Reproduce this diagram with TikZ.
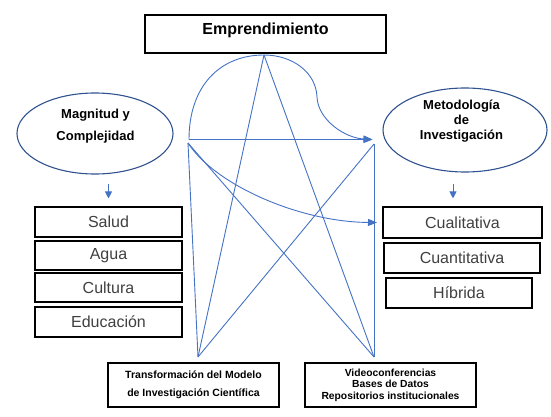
\documentclass[tikz,border=0pt]{standalone}
\usepackage{fontspec}
\setmainfont{Liberation Sans}
\usetikzlibrary{arrows.meta,shapes.geometric}
\definecolor{lineblue}{HTML}{4472C4}
\definecolor{ellblue}{HTML}{2F528F}
\definecolor{txtgray}{HTML}{404040}
\begin{document}
\begin{tikzpicture}[x=1pt,y=-1pt,
  box/.style={draw=black, line width=1.1pt, inner sep=0pt},
  ell/.style={draw=ellblue, line width=1.1pt, ellipse, inner sep=0pt},
  item/.style={box, font=\fontsize{16}{19}\selectfont, text=txtgray},
  elltext/.style={font=\bfseries\fontsize{13}{#1}\selectfont, align=center, inner sep=0pt},
  link/.style={draw=lineblue, line width=0.9pt},
  tip/.style={-{Triangle[width=7pt,length=9pt]}},
  smalltip/.style={-{Triangle[width=7pt,length=7pt]}},
]
\useasboundingbox (0,0) rectangle (551,417);

% title
\node[box, minimum width=241pt, minimum height=38pt,
      font=\bfseries\fontsize{16}{19}\selectfont,
      text height=11.5pt, text depth=9.5pt] (emp) at (265.5,34) {Emprendimiento};

% ellipses
\node[ell, minimum width=156pt, minimum height=81pt] (mag) at (95,133.5) {};
\node[elltext=22] (magt) at (95.5,126.5) {Magnitud y\\Complejidad};
\node[ell, minimum width=164pt, minimum height=84pt] (met) at (465,130) {};
\node[elltext=15] (mett) at (461.5,121.6) {Metodología\\de\\Investigación};

% left boxes
\node[item, minimum width=147pt, minimum height=30pt] (salud) at (108.5,222) {Salud};
\node[item, minimum width=147pt, minimum height=29pt] (agua) at (108.5,255.5) {Agua};
\node[item, minimum width=147pt, minimum height=29pt] (cult) at (108.5,287.5) {Cultura};
\node[item, minimum width=147pt, minimum height=30pt] (edu) at (108.5,322) {Educación};

% right boxes
\node[item, minimum width=159pt, minimum height=31pt] (cual) at (462.5,222.5) {Cualitativa};
\node[item, minimum width=156pt, minimum height=30pt] (cuan) at (462,258) {Cuantitativa};
\node[item, minimum width=146pt, minimum height=30pt] (hib) at (459,293) {Híbrida};

% bottom boxes
\node[box, minimum width=171pt, minimum height=44pt, align=center,
      font=\bfseries\fontsize{10.5}{18}\selectfont] (trans) at (193.5,385)
      {Transformación del Modelo\\de Investigación Científica};
\node[box, minimum width=171pt, minimum height=44pt, align=center,
      font=\bfseries\fontsize{10.3}{11.5}\selectfont] (video) at (390.5,385)
      {Videoconferencias\\Bases de Datos\\Repositorios institucionales};

% small arrows
\draw[link, smalltip, shorten <=9pt, shorten >=8pt] (salud.north |- mag.south) -- (salud.north);
\draw[link, smalltip, shorten <=11pt, shorten >=8pt] ([xshift=-9.5pt]cual.north |- met.south) -- ([xshift=-9.5pt]cual.north);

% star points
\coordinate (apex) at (264,55);
\coordinate (L1) at (189,139.5);
\coordinate (L2) at (188,143);
\coordinate (R1) at (372.5,139.5);
\coordinate (R2) at (374,144);
\coordinate (BL) at (198,357);
\coordinate (BR) at (374,357);
\coordinate (C1) at (377,222.5);

\draw[link] (apex) -- (BL);
\draw[link] (apex) -- (BR);
\draw[link, tip] (L1) -- (R1);
\draw[link] (L2) -- (BR);
\draw[link] (R2) -- (BL);
\draw[link] (L2) -- (BL);
\draw[link] (R2) -- (BR);
\draw[link, tip] (L1) .. controls (189,86) and (220,55) .. (apex)
   .. controls (292,55) and (316,72) .. (317,97)
   .. controls (318,120) and (345,138) .. (R1);
\draw[link, tip] (L2) .. controls (215,185) and (300,222) .. (C1);
\end{tikzpicture}
\end{document}
